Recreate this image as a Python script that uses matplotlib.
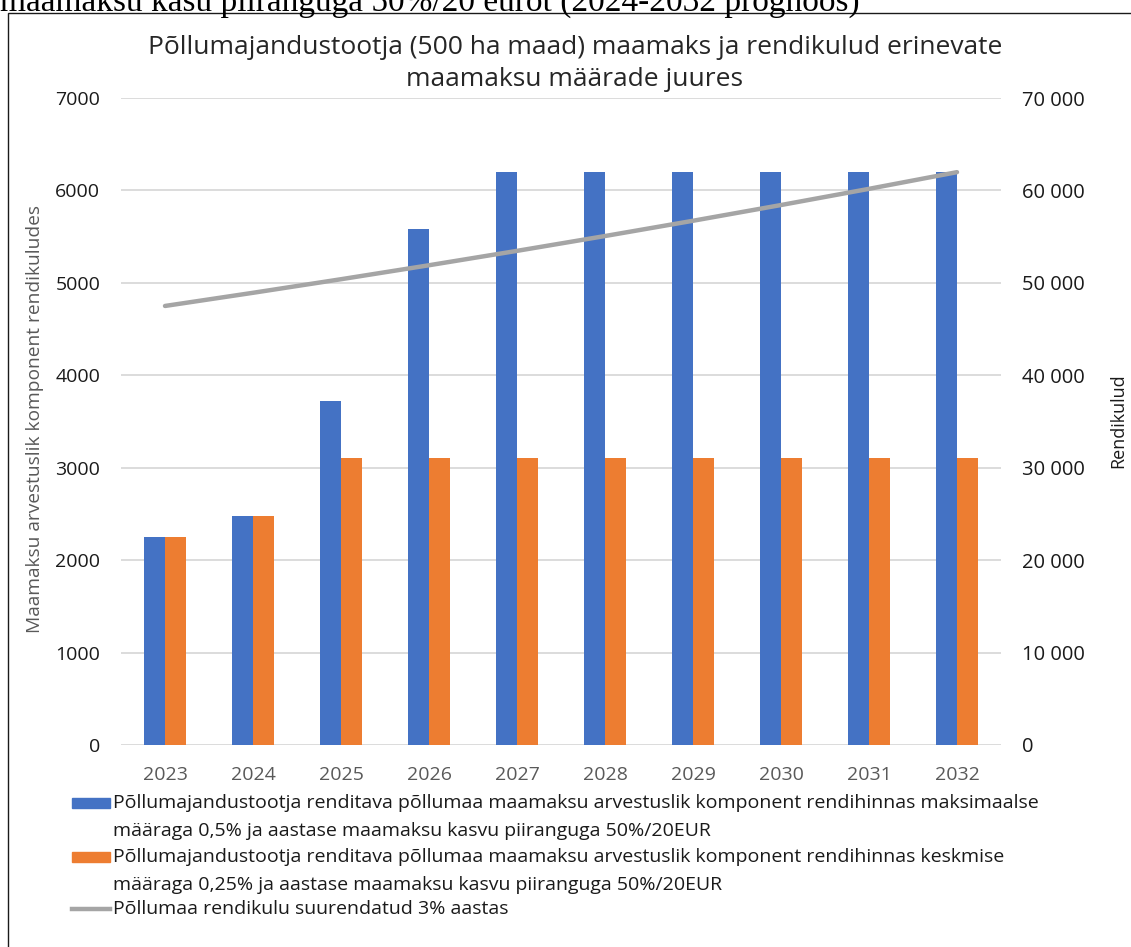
import matplotlib
matplotlib.use("Agg")
import matplotlib.pyplot as plt
from matplotlib.patches import Rectangle
from matplotlib.lines import Line2D
from matplotlib.ticker import FuncFormatter, MultipleLocator
from matplotlib import font_manager
import numpy as np

# ---- data -------------------------------------------------------------
years = ["2023", "2024", "2025", "2026", "2027", "2028", "2029", "2030", "2031", "2032"]
tax_max_rate = [2250, 2480, 3720, 5580, 6200, 6200, 6200, 6200, 6200, 6200]
tax_avg_rate = [2250, 2480, 3100, 3100, 3100, 3100, 3100, 3100, 3100, 3100]
rent_cost = [47500, 48925, 50393, 51905, 53462, 55066, 56718, 58420, 60172, 61977]

title_lines = ["Põllumajandustootja (500 ha maad) maamaks ja rendikulud erinevate",
               "maamaksu määrade juures"]
left_label = "Maamaksu arvestuslik komponent rendikuludes"
right_label = "Rendikulud"
series_labels = [
    ("Põllumajandustootja renditava põllumaa maamaksu arvestuslik komponent rendihinnas maksimaalse",
     "määraga 0,5% ja aastase maamaksu kasvu piiranguga 50%/20EUR"),
    ("Põllumajandustootja renditava põllumaa maamaksu arvestuslik komponent rendihinnas keskmise",
     "määraga 0,25% ja aastase maamaksu kasvu piiranguga 50%/20EUR"),
    ("Põllumaa rendikulu suurendatud 3% aastas",),
]
caption_above = "maamaksu kasu piiranguga 50%/20 eurot (2024-2032 prognoos)"

BLUE = "#4472C4"
ORANGE = "#ED7D31"
GRAY = "#A5A5A5"
GRID = "#D9D9D9"
TEXT_GRAY = "#595959"

installed = {f.name for f in font_manager.fontManager.ttflist}
MAIN_FONT = ["Open Sans", "DejaVu Sans"]
NARROW_FONT = (["Liberation Sans Narrow", "DejaVu Sans"]
               if "Liberation Sans Narrow" in installed else ["Open Sans", "DejaVu Sans"])

W, H = 1131, 947
fig = plt.figure(figsize=(W / 100, H / 100), dpi=100)


def fx(px):
    return px / W


def fy(py):
    return 1 - py / H


# chart frame (its right and bottom edges lie outside the page)
fig.patches.append(Rectangle((fx(7.5), fy(990)), fx(1200), fy(13.5) - fy(990),
                             transform=fig.transFigure, fill=False,
                             edgecolor="#1a1a1a", lw=1.0))

# caption line partly cut at the top edge
fig.text(fx(0), fy(11), caption_above, family=["Liberation Serif", "DejaVu Serif"],
         fontsize=24, ha="left", va="baseline", color="black")

# ---- axes -------------------------------------------------------------
ax_left, ax_right, ax_top, ax_bottom = 121, 1001, 98, 745
ax = fig.add_axes([fx(ax_left), fy(ax_bottom), fx(ax_right - ax_left), fy(ax_top) - fy(ax_bottom)])

x = np.arange(len(years))
bw = 0.24
ax.bar(x - bw / 2, tax_max_rate, bw, color=BLUE, zorder=2)
ax.bar(x + bw / 2, tax_avg_rate, bw, color=ORANGE, zorder=2)
ax.set_xlim(-0.5, len(years) - 0.5)
ax.set_ylim(0, 7000)
ax.yaxis.set_major_locator(MultipleLocator(1000))
ax.set_xticks(x)
ax.set_xticklabels(years)
ax.grid(axis="y", color=GRID, lw=1.3, zorder=0)
ax.set_axisbelow(True)
for s in ax.spines.values():
    s.set_visible(False)
ax.tick_params(axis="y", length=0, pad=15, labelsize=14, labelcolor="#1a1a1a")
ax.tick_params(axis="x", length=0, pad=15, labelsize=14, labelcolor=TEXT_GRAY)
for lbl in ax.get_xticklabels() + ax.get_yticklabels():
    lbl.set_family(MAIN_FONT)

ax2 = ax.twinx()
ax2.plot(x, rent_cost, color=GRAY, lw=3.2, solid_capstyle="round", zorder=3)
ax2.set_ylim(0, 70000)
ax2.yaxis.set_major_locator(MultipleLocator(10000))
ax2.yaxis.set_major_formatter(FuncFormatter(lambda v, p: f"{int(v):,}".replace(",", " ")))
for s in ax2.spines.values():
    s.set_visible(False)
ax2.tick_params(axis="y", length=0, pad=15, labelsize=14.5, labelcolor="#1a1a1a")
for lbl in ax2.get_yticklabels():
    lbl.set_family(MAIN_FONT)

# ---- titles and axis labels ------------------------------------------
for yy, line in zip([47, 80], title_lines):
    fig.text(fx(575), fy(yy), line, family=MAIN_FONT, fontsize=19, ha="center", va="center",
             color="#262626")
fig.text(fx(35), fy(419), left_label, family=MAIN_FONT, fontsize=13.8, rotation=90,
         ha="center", va="center", color=TEXT_GRAY)
fig.text(fx(1118), fy(421), right_label, family=NARROW_FONT, fontsize=13, rotation=90,
         ha="center", va="center", color="#1a1a1a")

# ---- legend -----------------------------------------------------------
legend_rows = [803, 857, 909]
line_gap = 28
for (lines, row, kind) in zip(series_labels, legend_rows, ["bar", "bar", "line"]):
    if kind == "bar":
        color = BLUE if row == legend_rows[0] else ORANGE
        fig.patches.append(Rectangle((fx(72), fy(row + 5)), fx(38), fy(row - 5) - fy(row + 5),
                                     transform=fig.transFigure, color=color))
    else:
        fig.lines.append(Line2D([fx(72), fx(110)], [fy(row), fy(row)], transform=fig.transFigure,
                                color=GRAY, lw=3.2))
    for i, t in enumerate(lines):
        fig.text(fx(113), fy(row + i * line_gap), t, family=NARROW_FONT, fontsize=14,
                 ha="left", va="center", color="#1a1a1a")

fig.savefig("out.png", dpi=100)
